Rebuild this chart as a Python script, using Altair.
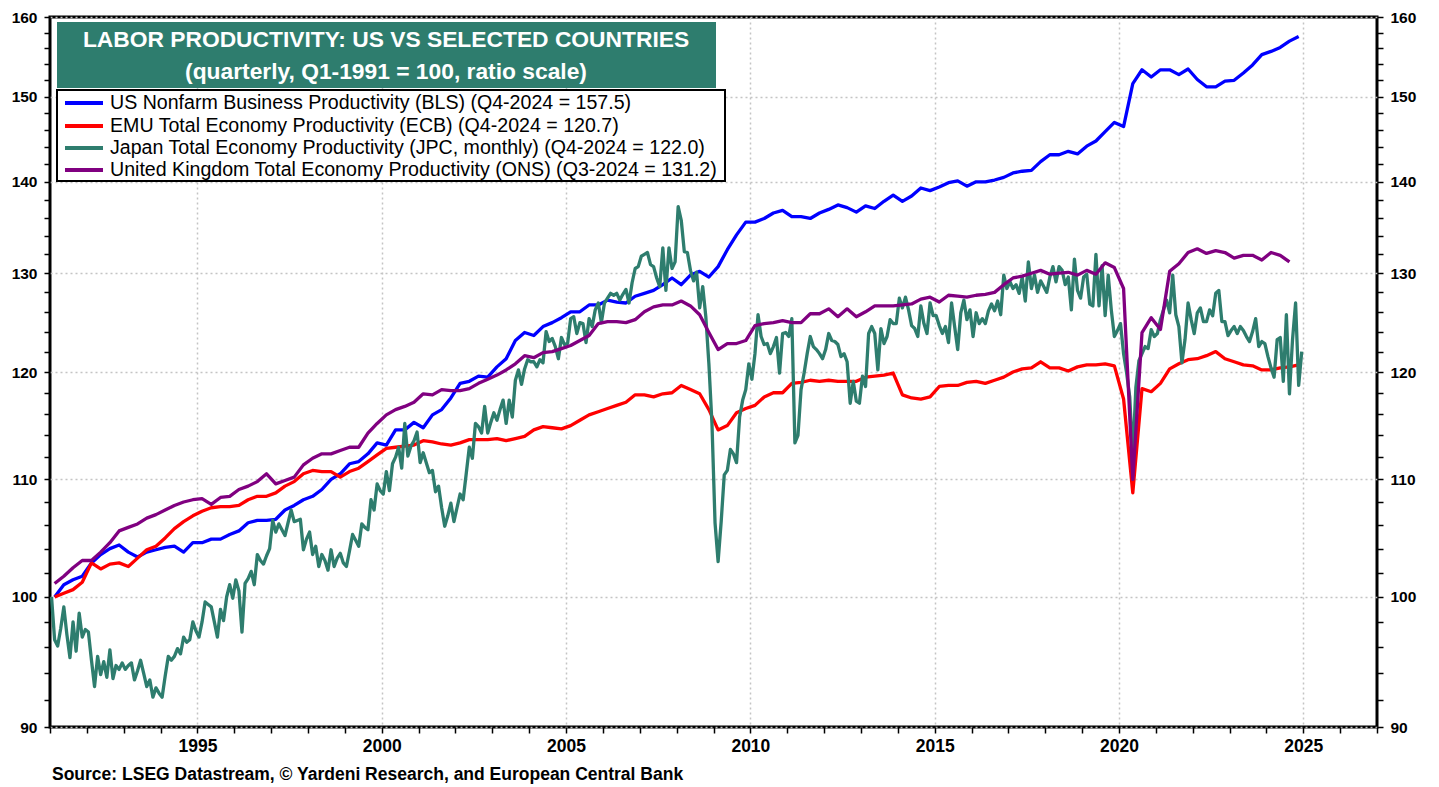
import altair as alt
import pandas as pd

FONT = "Liberation Sans, Arial, sans-serif"

series_names = [
    "US Nonfarm Business Productivity (BLS) (Q4-2024 = 157.5)",
    "EMU Total Economy Productivity (ECB) (Q4-2024 = 120.7)",
    "Japan Total Economy Productivity (JPC, monthly) (Q4-2024 = 122.0)",
    "United Kingdom Total Economy Productivity (ONS) (Q3-2024 = 131.2)",
]
series_colors = ["#0000ff", "#ff0000", "#2e7d6e", "#800080"]

title_line1 = "LABOR PRODUCTIVITY: US VS SELECTED COUNTRIES"
title_line2 = "(quarterly, Q1-1991 = 100, ratio scale)"
source_text = "Source: LSEG Datastream, \u00a9 Yardeni Research,  and European Central Bank"

x_ticks = list(range(1991, 2028))
y_ticks = list(range(90, 162, 2))

# quarterly, Q1-1991 .. Q4-2024
us_values = [
    100.0, 101.0, 101.4, 101.7,
    102.8, 103.5, 104.0, 104.3,
    103.7, 103.3, 103.7, 103.9,
    104.1, 104.2, 103.7, 104.5,
    104.5, 104.8, 104.8, 105.2,
    105.5, 106.2, 106.4, 106.4,
    106.5, 107.3, 107.7, 108.2,
    108.5, 109.1, 110.0, 110.5,
    111.4, 111.6, 112.3, 113.3,
    113.1, 114.5, 114.5, 115.2,
    114.7, 115.9, 116.4, 117.5,
    118.9, 119.1, 119.6, 119.5,
    120.5, 121.3, 123.1, 123.9,
    123.6, 124.5, 124.9, 125.4,
    126.0, 126.0, 126.7, 126.7,
    127.2, 127.0, 126.9, 127.6,
    127.9, 128.2, 128.8, 129.5,
    128.8, 129.8, 130.2, 129.6,
    130.7, 132.5, 134.1, 135.5,
    135.5, 135.9, 136.5, 136.8,
    136.1, 136.1, 135.9, 136.5,
    136.9, 137.4, 137.1, 136.6,
    137.3, 137.0, 137.8, 138.5,
    137.8, 138.4, 139.3, 139.0,
    139.4, 139.9, 140.1, 139.5,
    140.0, 140.0, 140.2, 140.5,
    141.0, 141.2, 141.3, 142.3,
    143.1, 143.1, 143.5, 143.2,
    144.1, 144.7, 145.8, 146.9,
    146.4, 151.6, 153.3, 152.4,
    153.3, 153.3, 152.7, 153.4,
    152.1, 151.2, 151.2, 151.9,
    152.0, 152.9, 153.9, 155.2,
    155.6, 156.1, 156.9, 157.5,
]

emu_values = [
    100.0, 100.3, 100.6, 101.2,
    102.8, 102.3, 102.7, 102.8,
    102.5, 103.2, 103.9, 104.2,
    104.9, 105.7, 106.3, 106.8,
    107.2, 107.5, 107.6, 107.6,
    107.7, 108.2, 108.5, 108.5,
    108.8, 109.4, 109.8, 110.5,
    110.8, 110.7, 110.7, 110.2,
    110.7, 111.0, 111.6, 112.2,
    112.8, 112.9, 113.0, 113.1,
    113.5, 113.4, 113.2, 113.1,
    113.3, 113.6, 113.6, 113.6,
    113.7, 113.5, 113.7, 113.9,
    114.5, 114.8, 114.7, 114.6,
    114.9, 115.4, 115.9, 116.2,
    116.5, 116.8, 117.1, 117.8,
    117.8, 117.6, 117.9, 118.0,
    118.7, 118.3, 117.9, 116.4,
    114.5, 114.9, 116.1, 116.5,
    116.8, 117.6, 118.0, 118.0,
    118.9, 119.0, 119.2, 119.1,
    119.2, 119.1, 119.1, 119.1,
    119.5, 119.6, 119.7, 119.9,
    117.8, 117.5, 117.4, 117.6,
    118.6, 118.7, 118.7, 119.0,
    119.1, 118.9, 119.2, 119.5,
    120.0, 120.3, 120.4, 121.0,
    120.4, 120.4, 120.1, 120.5,
    120.7, 120.7, 120.8, 120.6,
    117.4, 108.8, 118.4, 118.1,
    118.9, 120.3, 120.8, 121.2,
    121.3, 121.6, 122.0, 121.3,
    121.0, 120.7, 120.6, 120.2,
    120.2, 120.4, 120.5, 120.7,
]

# quarterly, Q1-1991 .. Q3-2024
uk_values = [
    101.1, 101.7, 102.4, 103.0,
    103.0, 103.7, 104.5, 105.5,
    105.8, 106.1, 106.6, 106.9,
    107.3, 107.7, 108.0, 108.2,
    108.3, 107.8, 108.4, 108.5,
    109.1, 109.4, 109.8, 110.5,
    109.6, 109.9, 110.2, 111.3,
    111.9, 112.3, 112.3, 112.6,
    112.9, 112.9, 114.2, 115.1,
    115.9, 116.4, 116.7, 117.1,
    117.9, 117.8, 118.3, 118.2,
    118.2, 118.4, 118.9, 119.3,
    119.7, 120.2, 120.8, 121.6,
    121.4, 121.9, 122.0, 122.3,
    122.6, 123.1, 123.6, 124.8,
    125.0, 125.0, 124.9, 125.2,
    126.0, 126.5, 126.7, 126.7,
    127.1, 126.6, 125.7, 123.9,
    122.2, 122.8, 122.8, 123.1,
    124.6, 124.8, 124.9, 125.1,
    124.9, 124.9, 125.8, 125.8,
    126.3, 125.5, 126.3, 125.5,
    126.0, 126.6, 126.6, 126.6,
    126.7, 126.8, 127.3, 127.5,
    127.0, 127.7, 127.6, 127.5,
    127.7, 127.8, 128.0, 128.8,
    129.5, 129.7, 130.0, 130.3,
    129.9, 130.0, 130.1, 129.8,
    130.3, 129.9, 131.1, 130.6,
    128.4, 110.0, 123.9, 125.4,
    124.2, 130.2, 131.0, 132.2,
    132.6, 132.1, 132.4, 132.2,
    131.6, 131.9, 131.9, 131.4,
    132.2, 131.9, 131.2,
]

# monthly, Jan-1991 .. Dec-2024
japan_values = [
    100.0, 96.6, 96.1, 97.5, 99.2, 97.0, 95.2, 98.0, 95.7, 98.7, 96.8, 97.4,
    97.2, 95.0, 93.0, 95.3, 93.9, 94.9, 93.7, 95.8, 93.6, 94.6, 94.3, 94.8,
    94.3, 94.6, 94.8, 93.5, 94.2, 95.0, 94.0, 93.0, 93.5, 92.2, 92.9, 92.5,
    92.2, 93.8, 95.3, 95.0, 95.3, 95.9, 95.5, 96.8, 96.4, 96.6, 98.0, 97.3,
    96.8, 98.0, 99.6, 99.4, 99.2, 98.0, 96.8, 99.0, 98.1, 100.0, 101.0, 99.9,
    101.4, 100.5, 97.2, 101.1, 101.5, 102.1, 101.0, 103.5, 103.0, 102.7, 103.4, 104.0,
    106.4, 105.4, 106.1, 105.6, 105.1, 106.2, 107.3, 106.3, 106.4, 106.5, 103.9, 104.8,
    105.4, 103.5, 104.2, 102.5, 103.5, 103.0, 102.2, 103.9, 102.5, 103.2, 103.6, 102.8,
    102.5, 103.8, 105.2, 104.7, 104.2, 106.1, 105.8, 105.6, 108.2, 107.3, 109.6, 109.0,
    108.7, 110.7, 109.0, 111.4, 112.0, 112.9, 111.0, 115.1, 112.1, 113.0, 113.5, 114.3,
    111.5, 112.4, 111.5, 110.6, 110.8, 108.9, 109.4, 107.5, 105.9, 106.8, 107.9, 106.3,
    107.5, 108.7, 108.2, 110.5, 112.9, 111.9, 115.1, 114.8, 114.2, 116.7, 114.2, 115.2,
    116.1, 115.4, 116.4, 117.3, 115.1, 117.3, 115.7, 119.2, 120.2, 118.8, 120.3, 121.2,
    121.0, 121.0, 120.5, 121.2, 120.9, 124.0, 123.0, 123.3, 122.5, 121.3, 123.4, 122.7,
    122.8, 125.3, 125.5, 123.8, 124.9, 124.8, 122.9, 125.3, 124.5, 126.2, 126.9, 124.9,
    126.9, 127.4, 127.9, 127.7, 127.9, 127.2, 127.8, 128.3, 126.9, 129.0, 130.5, 130.7,
    131.8, 132.0, 132.2, 130.9, 130.7, 129.5, 128.6, 132.7, 128.2, 132.7, 130.5, 131.2,
    137.2, 135.7, 132.3, 132.2, 130.3, 129.2, 130.1, 126.4, 128.6, 125.5, 120.8, 115.1,
    106.2, 102.9, 106.3, 110.4, 110.8, 112.7, 112.3, 111.5, 115.7, 117.3, 118.3, 120.8,
    119.3, 121.8, 125.7, 123.5, 122.7, 122.8, 121.8, 122.5, 123.4, 119.9, 123.8, 123.9,
    123.5, 125.3, 113.3, 114.0, 118.3, 119.9, 121.8, 123.5, 122.5, 122.2, 121.8, 121.3,
    122.2, 123.8, 123.1, 123.0, 122.7, 121.5, 121.8, 121.0, 117.0, 119.1, 117.2, 117.0,
    119.6, 118.6, 123.8, 124.5, 123.8, 120.2, 124.3, 122.8, 123.5, 125.2, 124.8, 124.8,
    127.4, 126.4, 127.5, 126.2, 124.6, 124.3, 123.5, 126.6, 124.8, 123.8, 126.9, 125.6,
    125.6, 124.6, 123.8, 124.5, 122.9, 126.9, 124.5, 122.2, 125.9, 127.2, 125.2, 126.2,
    123.5, 125.9, 124.8, 125.3, 124.8, 126.1, 126.8, 126.1, 127.1, 125.7, 129.8, 128.4,
    129.1, 128.4, 128.8, 127.9, 129.6, 127.1, 131.2, 128.4, 129.8, 128.0, 129.2, 128.6,
    128.0, 129.6, 130.7, 129.1, 130.7, 130.3, 128.8, 129.6, 126.2, 131.5, 128.2, 127.4,
    129.6, 129.9, 126.8, 126.6, 132.0, 126.6, 130.8, 125.6, 129.8, 126.2, 123.5, 124.1,
    124.8, 121.8, 119.9, 117.6, 112.0, 118.5, 121.1, 121.8, 122.5, 122.3, 124.2, 123.5,
    123.8, 125.2, 126.2, 127.2, 125.9, 129.8, 125.7, 124.5, 120.9, 123.2, 126.9, 125.2,
    123.8, 125.9, 126.4, 125.0, 125.0, 126.2, 125.6, 127.9, 128.2, 125.0, 125.0, 123.6,
    124.1, 124.5, 123.8, 124.5, 124.1, 123.5, 123.0, 124.0, 125.3, 122.5, 123.0, 122.8,
    121.5, 120.4, 119.5, 123.2, 123.4, 119.1, 125.7, 117.9, 123.2, 126.9, 118.7, 122.0,
]


def quarterly(vals, name):
    return pd.DataFrame({"t": [1991 + i * 0.25 + 0.125 for i in range(len(vals))],
                         "v": vals, "s": name})


def monthly(vals, name):
    return pd.DataFrame({"t": [1991 + (i + 0.5) / 12 for i in range(len(vals))],
                         "v": vals, "s": name})


W, H = 1327, 710

x_scale = alt.Scale(domain=[1991, 2027], nice=False, zero=False)
y_scale = alt.Scale(type="log", domain=[90, 160], nice=False)
color_scale = alt.Scale(domain=series_names, range=series_colors)

x_axis = alt.Axis(
    values=x_ticks, format="d", title=None,
    labelExpr="datum.value % 5 === 0 ? datum.label : ''",
    grid=True, gridColor="#c4c4c4", gridDash=[2, 3], gridWidth=1.5,
    gridOpacity={"condition": {"test": "datum.value % 5 === 0", "value": 1}, "value": 0},
    tickSize=6, tickWidth=1.5, tickColor="black",
    labelFontSize=17.5, labelFontWeight="bold", labelColor="black", labelFont=FONT,
    labelPadding=4, labelOverlap=False, labelFlush=False, domain=False,
)


def y_axis(orient, grid):
    return alt.Axis(
        values=y_ticks, format="d", title=None, orient=orient,
        labelExpr="datum.value % 10 === 0 ? datum.label : ''",
        grid=grid, gridColor="#c4c4c4", gridDash=[2, 3], gridWidth=1.5,
        gridOpacity={"condition": {"test": "datum.value % 10 === 0", "value": 1}, "value": 0},
        tickSize=6, tickWidth=1.5, tickColor="black",
        labelFontSize=15.5, labelFontWeight="bold", labelColor="black", labelFont=FONT,
        labelPadding=7, labelOverlap=False, labelFlush=False, domain=False,
    )


def line_layer(df, axis):
    return alt.Chart(df).mark_line(strokeWidth=3.3, strokeJoin="round").encode(
        x=alt.X("t:Q", scale=x_scale, axis=x_axis),
        y=alt.Y("v:Q", scale=y_scale, axis=axis),
        color=alt.Color("s:N", scale=color_scale, legend=None),
    )


one = pd.DataFrame({"a": [0]})

layers = [
    line_layer(quarterly(us_values, series_names[0]), y_axis("left", True)),
    line_layer(quarterly(emu_values, series_names[1]), y_axis("right", False)),
    line_layer(monthly(japan_values, series_names[2]), None),
    line_layer(quarterly(uk_values, series_names[3]), None),
]

# title box
layers.append(alt.Chart(one).mark_rect(fill="#2e7d6e").encode(
    x=alt.value(7), x2=alt.value(666), y=alt.value(5), y2=alt.value(71)))
layers.append(alt.Chart(one).mark_text(
    text=title_line1, font=FONT, fontSize=22.8, fontWeight="bold", color="white",
    align="center", baseline="middle").encode(x=alt.value(336), y=alt.value(23)))
layers.append(alt.Chart(one).mark_text(
    text=title_line2, font=FONT, fontSize=22.8, fontWeight="bold", color="white",
    align="center", baseline="middle").encode(x=alt.value(336), y=alt.value(55)))

# legend box
layers.append(alt.Chart(one).mark_rect(fill="white", stroke="black", strokeWidth=2).encode(
    x=alt.value(7), x2=alt.value(675), y=alt.value(73), y2=alt.value(164)))
row_y = [86, 109, 131, 153]
for name, ry in zip(series_names, row_y):
    sdf = pd.DataFrame({"s": [name]})
    layers.append(alt.Chart(sdf).mark_rule(strokeWidth=4).encode(
        x=alt.value(15), x2=alt.value(53), y=alt.value(ry),
        color=alt.Color("s:N", scale=color_scale, legend=None)))
    layers.append(alt.Chart(sdf).mark_text(
        font=FONT, fontSize=19.6, color="black", align="left", baseline="middle").encode(
        x=alt.value(60), y=alt.value(ry), text="s:N"))

# source line
layers.append(alt.Chart(one).mark_text(
    text=source_text, font=FONT, fontSize=17.5, fontWeight="bold", color="black",
    align="left", baseline="middle").encode(x=alt.value(2), y=alt.value(758)))

chart = alt.layer(*layers).resolve_axis(y="independent").properties(
    width=W, height=H,
    padding={"left": 42, "top": 9, "right": 50, "bottom": 60},
    autosize=alt.AutoSizeParams(type="none"),
).configure_view(stroke="black", strokeWidth=3)

chart.save("out.html", embed_options={"renderer": "svg", "actions": False})
